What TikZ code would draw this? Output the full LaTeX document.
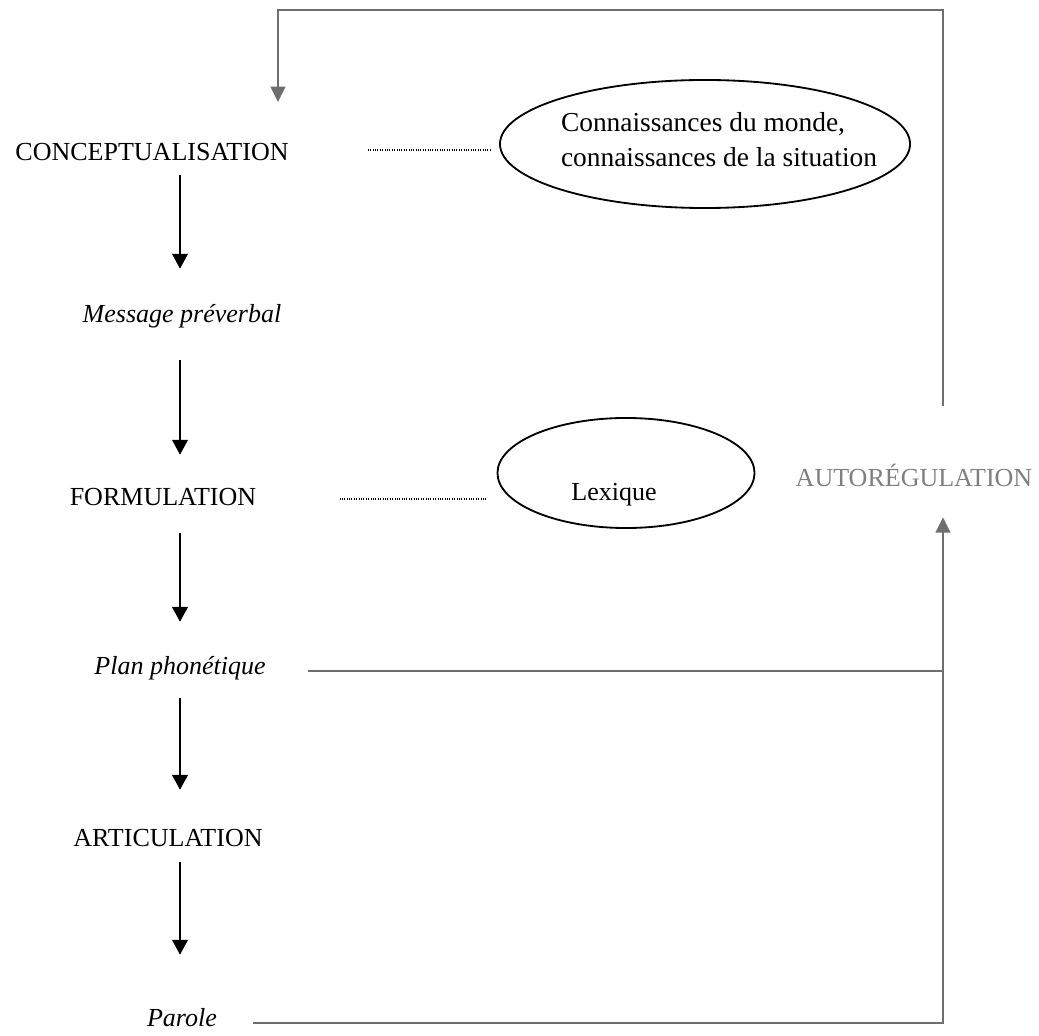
\documentclass[tikz,border=0pt]{standalone}
\usepackage{fontspec}
\setmainfont{Liberation Serif}
\usepackage{xcolor}
\usetikzlibrary{arrows.meta,shapes.geometric,calc}
\definecolor{LoopGray}{HTML}{6E6E6E}
\definecolor{LabelGray}{HTML}{7F7F7F}
\tikzset{
  stage/.style={inner sep=0pt, text height=13pt, text depth=4pt, font=\fontsize{18.5}{25}\selectfont},
  product/.style={stage, font=\fontsize{18.5}{25}\selectfont\itshape},
  store/.style={draw, ellipse, line width=1.3pt, inner sep=0pt},
  flow/.style={-{Triangle[width=11pt,length=10.5pt]}, line width=1.4pt},
  loopline/.style={LoopGray, line width=1.4pt},
  looptip/.style={-{Triangle[width=10.5pt,length=11pt]}},
  link/.style={line width=0.8pt, dash pattern=on 0.6pt off 1.1pt}
}
\begin{document}
\begin{tikzpicture}[x=0.025cm, y=-0.025cm]
  \useasboundingbox (0,0) rectangle (1039,1036);
  % stages of the production chain
  \node[stage] (concept) at (152,154) {CONCEPTUALISATION};
  \node[product] (msg) at (182,316) {Message préverbal};
  \node[stage] (formul) at (163,499) {FORMULATION};
  \node[product] (plan) at (180,668) {Plan phonétique};
  \node[stage] (artic) at (168,840) {ARTICULATION};
  \node[product] (parole) at (182,1020) {Parole};
  \node[stage, text=LabelGray] (autoreg) at (914,480) {AUTORÉGULATION};
  % knowledge stores
  \node[store, minimum width=10.25cm, minimum height=3.2cm] (monde) at (705,144) {};
  \node[inner sep=0pt, align=left, font=\fontsize{19.5}{25}\selectfont] (mondetxt) at (719,140) {Connaissances du monde,\\connaissances de la situation};
  \node[store, minimum width=6.425cm, minimum height=2.75cm] (lexique) at (626,473) {};
  \node[stage] (lexiquetxt) at (614,494) {Lexique};
  % main chain
  \draw[flow, shorten <=0.225cm, shorten >=0.875cm] (concept.south -| plan) -- (msg.north -| plan);
  \draw[flow, shorten <=0.8cm, shorten >=0.8cm] (msg.south -| plan) -- (formul.north -| plan);
  \draw[flow, shorten <=0.55cm, shorten >=0.85cm] (formul.south -| plan) -- (plan.north);
  \draw[flow, shorten <=0.45cm, shorten >=0.95cm] (plan.south) -- (artic.north -| plan);
  \draw[flow, shorten <=0.25cm, shorten >=1.325cm] (artic.south -| plan) -- (parole.north -| plan);
  % links to the stores
  \draw[link, shorten <=1.975cm, shorten >=0.2cm] ([yshift=0.1cm]concept.east) -- ([yshift=0.1cm]concept.east -| monde.west);
  \draw[link, shorten <=2.075cm, shorten >=0.25cm] (formul.east) -- (formul.east -| lexique.west);
  % feedback loop
  \coordinate (turn) at (943,1023);
  \coordinate (paroleout) at (253,1023);
  \coordinate (planout) at (308,671);
  \coordinate (loopstart) at (943,406);
  \coordinate (loopin) at (278,102);
  \draw[loopline, looptip, shorten >=0.625cm] (paroleout) -- (turn) -- (turn |- autoreg.south);
  \draw[loopline] (planout) -- (planout -| turn);
  \draw[loopline, looptip] (loopstart) -- ++(0,-396) -| (loopin);
\end{tikzpicture}
\end{document}
